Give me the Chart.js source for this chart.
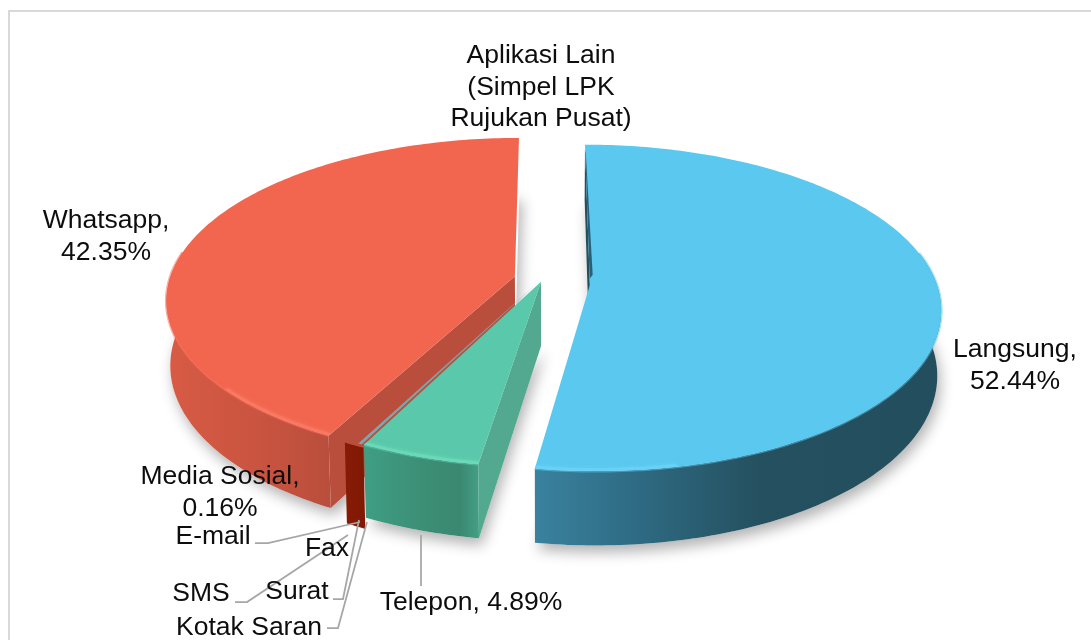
<!DOCTYPE html>
<html><head><meta charset="utf-8">
<style>html,body{margin:0;padding:0;background:#fff}canvas{display:block}</style>
<script src="https://cdn.jsdelivr.net/npm/chart.js@4/dist/chart.umd.min.js"></script>
</head><body>
<canvas id="c" width="1091" height="640"></canvas>
<script>
// ---- data, clockwise from 12 o'clock ----
const categories = ['Langsung','Telepon','Kotak Saran','Surat','SMS','Fax','E-mail','Media Sosial','Whatsapp','Aplikasi Lain (Simpel LPK Rujukan Pusat)'];
const shares = [52.44,4.89,0.03,0.03,0.03,0.03,0.03,0.16,42.35,0.01];
const labelTexts = [['Langsung,','52.44%'],['Telepon, 4.89%'],['Kotak Saran'],['Surat'],['SMS'],['Fax'],['E-mail'],['Media Sosial,','0.16%'],['Whatsapp,','42.35%'],['Aplikasi Lain','(Simpel LPK','Rujukan Pusat)']];

// ---- style ----
const labelAnchors = [[1015,350],[471,603],[249,628],[297,592],[201,594],[327,549],[213,537],[220,477],[106,221],[541,56]];
const leaders = [null,[[421,535],[421,586]],[[367,522],[338,628],[327,628]],[[359,520],[343,599],[333,599]],[[348,535],[247,602],[235,602]],null,[[360,522],[268,543],[255,543]],null,null,null];
const topColors  = ['#5AC8EF','#5AC8AA','#6FC3D6','#6FC3D6','#6FC3D6','#6FC3D6','#6FC3D6','#8A1C06','#F2664F','#5B9BD5'];
const rimColors  = ['#6ED4F8','#6FDDBE',null,null,null,null,null,null,'#FA7F69',null];
const highlightX = [[520,680],[350,490],null,null,null,null,null,null,[225,345],null];
const cutColors  = ['#23505F','#52A98F',null,null,null,null,null,'#8A1C06','#B94E3C',null];
const wallStops  = [
  [[534,'#3A829F'],[640,'#2E6A82'],[760,'#25505F'],[940,'#234E5E']],
  [[358,'#3FA085'],[420,'#3C8F76'],[460,'#3B8870'],[482,'#44A389']],
  null,null,null,null,null,
  [[340,'#8A1C06'],[370,'#7C1804']],
  [[165,'#D85B45'],[260,'#C9543F'],[330,'#B94E3C']],
  null];
const sliceShift = [[0.115,0],[-0.026,-0.02],[-0.032,-0.022],[-0.032,-0.022],[-0.032,-0.022],[-0.032,-0.022],[-0.032,-0.022],[-0.038,-0.011],[-0.102,-0.055],[0,0]];
const wallScale  = [1,1,0,0,0,0,0,1.11,1,0];
const minSweep   = [0,0,0,0,0,0,0,0.055,0,0];
const drawOrder  = [8,7,2,3,4,5,6,1,0];
const perspective = 0.14, stretchX = 1.2175, stretchY = 0.5614, wallDepth = 64, wallPinch = 0.99;

function project(arc, U, V){
  const w = 1 - perspective * V, R = arc.outerRadius;
  return [arc.x + R * stretchX * U / w, arc.y + R * stretchY * V / w, w];
}
function lower(arc, p, scale){
  return [arc.x + (p[0] - arc.x) * wallPinch, p[1] + wallDepth * scale / p[2], p[2]];
}
function rimPoints(arc, i, a0, a1){
  const n = Math.max(2, Math.ceil(Math.abs(a1 - a0) * 60)), pts = [], s = sliceShift[i];
  for (let k = 0; k <= n; k++){
    const a = a0 + (a1 - a0) * k / n;
    pts.push(project(arc, s[0] + Math.cos(a), s[1] + Math.sin(a)));
  }
  return pts;
}
function poly(ctx, pts){
  ctx.beginPath();
  pts.forEach((p, k) => k ? ctx.lineTo(p[0], p[1]) : ctx.moveTo(p[0], p[1]));
  ctx.closePath();
}
function wallPaint(ctx, i){
  const stops = wallStops[i], g = ctx.createLinearGradient(stops[0][0], 0, stops[stops.length-1][0], 0);
  const span = stops[stops.length-1][0] - stops[0][0];
  stops.forEach(s => g.addColorStop((s[0] - stops[0][0]) / span, s[1]));
  return g;
}
function openPath(ctx, pts){
  ctx.beginPath();
  pts.forEach((p, k) => k ? ctx.lineTo(p[0], p[1]) : ctx.moveTo(p[0], p[1]));
}

const pie3d = {
  id: 'pie3d',
  beforeDraw(chart){
    const ctx = chart.ctx;
    ctx.save();
    ctx.fillStyle = '#fff'; ctx.fillRect(0, 0, chart.width, chart.height);
    ctx.strokeStyle = '#D9D9D9'; ctx.lineWidth = 2;
    ctx.beginPath(); ctx.moveTo(9, 640); ctx.lineTo(9, 11); ctx.lineTo(1091, 11); ctx.stroke();
    ctx.restore();
  },
  beforeDatasetsDraw(chart){
    const ctx = chart.ctx, arcs = chart.getDatasetMeta(0).data;
    const span = i => {
      const a = arcs[i], mid = (a.startAngle + a.endAngle) / 2, half = Math.max(a.endAngle - a.startAngle, minSweep[i]) / 2;
      return [mid - half, mid + half];
    };
    // soft ground shadow
    ctx.save();
    ctx.shadowColor = 'rgba(0,0,0,0.30)'; ctx.shadowBlur = 14; ctx.shadowOffsetY = 7; ctx.shadowOffsetX = 3;
    ctx.fillStyle = '#fff';
    [8, 1, 0].forEach(i => {
      const a = arcs[i], [a0, a1] = span(i), s = sliceShift[i];
      const pts = rimPoints(a, i, a0, a1).concat([project(a, s[0], s[1])]);
      poly(ctx, pts.map(p => lower(a, p, wallScale[i])));
      ctx.fill();
    });
    ctx.restore();

    drawOrder.forEach(i => {
      const a = arcs[i], [a0, a1] = span(i), s = sliceShift[i];
      const rim = rimPoints(a, i, a0, a1), apex = project(a, s[0], s[1]), d = wallScale[i];
      const front = rim.filter(p => p[2] < 1.03);
      if (d){
        if (cutColors[i] && i !== 7){
          const first = rim[0];
          ctx.fillStyle = cutColors[i];
          poly(ctx, [apex, first, lower(a, first, d), lower(a, apex, d)]);
          ctx.fill();
        }
        ctx.fillStyle = wallPaint(ctx, i);
        poly(ctx, front.concat(front.map(p => lower(a, p, d)).reverse()));
        ctx.fill();
      }
      if (i === 7) return;
      ctx.fillStyle = topColors[i];
      poly(ctx, [apex].concat(rimPoints(a, i, a.startAngle, a.endAngle)));
      ctx.fill();
      if (rimColors[i]){
        // soft transition from the top face into the wall
        ctx.save();
        ctx.strokeStyle = topColors[i]; ctx.globalAlpha = 0.5; ctx.lineWidth = 3;
        openPath(ctx, front); ctx.stroke();
        ctx.restore();
        const lit = rim.filter(p => p[2] < 1 && p[0] > highlightX[i][0] && p[0] < highlightX[i][1]);
        ctx.save();
        poly(ctx, [apex].concat(rim)); ctx.clip();
        ctx.strokeStyle = rimColors[i]; ctx.lineWidth = 6; ctx.globalAlpha = 0.6; ctx.lineCap = 'round';
        ctx.shadowColor = rimColors[i]; ctx.shadowBlur = 4;
        openPath(ctx, lit); ctx.stroke();
        ctx.restore();
      }
    });

    // thin shaded strip along the first edge of the largest slice
    const a = arcs[0], s = sliceShift[0], tip = project(a, s[0], s[1] - 0.95), base = project(a, s[0], s[1] - 0.04);
    ctx.fillStyle = '#2A6077';
    poly(ctx, [tip, base, [base[0] + 3, base[1] - 4], [tip[0] + 0.6, tip[1] + 2]]);
    ctx.fill();
    return false;
  },
  afterDraw(chart){
    const ctx = chart.ctx;
    ctx.save();
    ctx.strokeStyle = '#A6A6A6'; ctx.lineWidth = 1.75;
    leaders.forEach(l => {
      if (!l) return;
      openPath(ctx, l);
      ctx.stroke();
    });
    ctx.fillStyle = '#0d0d0d';
    ctx.font = '26.5px "Liberation Sans", Arial, sans-serif';
    ctx.textAlign = 'center'; ctx.textBaseline = 'middle';
    labelTexts.forEach((lines, i) => {
      lines.forEach((t, k) => ctx.fillText(t, labelAnchors[i][0], labelAnchors[i][1] + k * 31.5));
    });
    ctx.restore();
  }
};

new Chart(document.getElementById('c'), {
  type: 'pie',
  data: { labels: categories, datasets: [{ data: shares, backgroundColor: topColors, borderWidth: 0 }] },
  options: {
    responsive: false, animation: false,
    layout: { padding: { left: 9, right: 0, top: 0, bottom: 70 } },
    plugins: { legend: { display: false }, tooltip: { enabled: false } }
  },
  plugins: [pie3d]
});
</script>
</body></html>
